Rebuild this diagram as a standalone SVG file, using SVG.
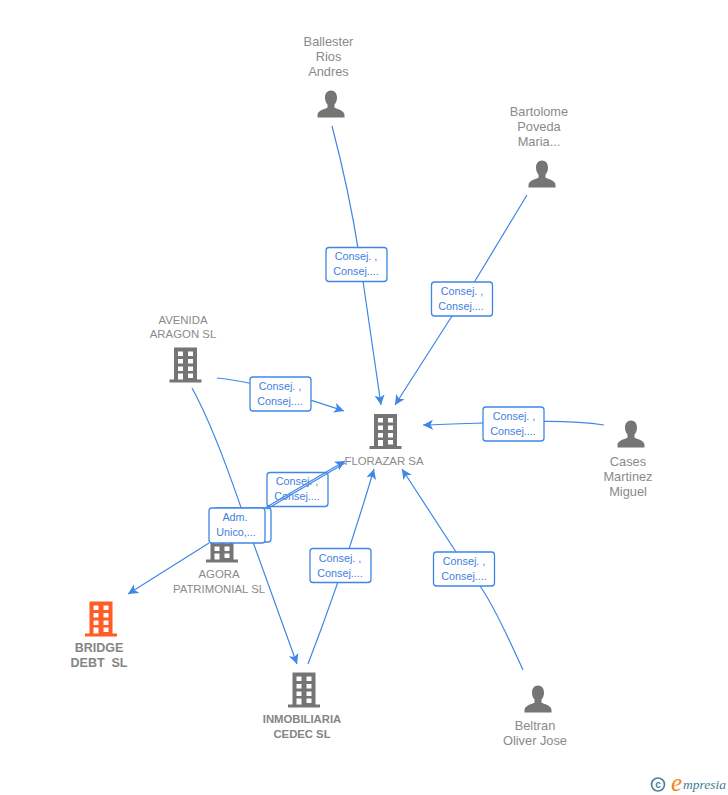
<svg xmlns="http://www.w3.org/2000/svg" width="728" height="795" viewBox="0 0 728 795">
<style>
text{font-family:"Liberation Sans",Arial,sans-serif}
.n{font-size:11.400px;fill:#8a8a8a;text-anchor:middle}
.p{font-size:12.800px;fill:#8a8a8a;text-anchor:middle}
.k{font-weight:bold;fill:#858585;text-anchor:middle}
.l{font-size:10.800px;fill:#3f80e0;text-anchor:middle}
.b{fill:#fff;stroke:#3f86e6;stroke-width:1.3}
.c{fill:none;stroke:#3f86e6;stroke-width:1.2}
.a{marker-end:url(#ah)}
</style>
<defs>
<marker id="ah" markerUnits="userSpaceOnUse" markerWidth="13" markerHeight="12" refX="10" refY="5.500" orient="auto">
<path d="M0 0.500L10 5.500L0 10.500L2.500 5.500Z" fill="#3f86e6"/>
</marker>
<g id="bld">
<path fill-rule="evenodd" d="M-11.500 -17.500H11.500V14.500H16V17.500H-16V14.500H-11.500ZM-7.500 -13.500V-9H-2.500V-13.500ZM2.500 -13.500V-9H7.500V-13.500ZM-7.500 -6V-1.500H-2.500V-6ZM2.500 -6V-1.500H7.500V-6ZM-7.500 1.500V6H-2.500V1.500ZM2.500 1.500V6H7.500V1.500ZM-7.500 8.500V14.500H-2.500V8.500ZM2.500 8.500V13H7.500V8.500Z"/>
</g>
<path id="psn" d="M0 -13.500C3.800 -13.500 6 -10.500 6 -6.500C6 -3.500 5 -1 3.500 0.500V3.800C7 5.500 13.500 6.500 13.500 11V13.500H-13.500V11C-13.500 6.500 -7 5.500 -3.500 3.800V0.500C-5 -1 -6 -3.500 -6 -6.500C-6 -10.500 -3.800 -13.500 0 -13.500Z"/>
</defs>
<g id="connectors">
<path class="c a" d="M332 126C345 175 356 230 363 281L381 405"/>
<path class="c a" d="M527 195L475 281L452 316L395 405"/>
<path class="c a" d="M217 378C250 381 290 393 344 411"/>
<path class="c a" d="M604 425C560 418 500 423 423 425"/>
<path class="c a" d="M523 670C505 630 490 600 480 586L456 552L402 469"/>
<path class="c a" d="M308 664C325 620 350 550 374 469"/>
<path class="c a" d="M192 388C215 430 235 490 253 542L297 664"/>
<path class="c a" d="M209 543L128 594"/>
</g>
<g id="node-florazar"><use href="#bld" x="385.500" y="431.500" fill="#757575"/><text class="n" x="384" y="465">FLORAZAR SA</text></g>
<g id="node-ballester"><use href="#psn" x="331" y="104" fill="#757575"/><text class="p" x="328.500" y="46">Ballester</text><text class="p" x="328.500" y="61">Rios</text><text class="p" x="328.500" y="76">Andres</text></g>
<g id="node-bartolome"><use href="#psn" x="542" y="174" fill="#757575"/><text class="p" x="539" y="116">Bartolome</text><text class="p" x="539" y="131">Poveda</text><text class="p" x="539" y="146">Maria...</text></g>
<g id="node-cases"><use href="#psn" x="631" y="434" fill="#757575"/><text class="p" x="628" y="466">Cases</text><text class="p" x="628" y="481">Martinez</text><text class="p" x="628" y="496">Miguel</text></g>
<g id="node-beltran"><use href="#psn" x="538" y="699" fill="#757575"/><text class="p" x="535" y="730">Beltran</text><text class="p" x="535" y="745">Oliver Jose</text></g>
<g id="node-avenida"><use href="#bld" x="185.500" y="365" fill="#757575"/><text class="n" x="183" y="323.500">AVENIDA</text><text class="n" x="183" y="338">ARAGON SL</text></g>
<g id="node-agora"><use href="#bld" x="222" y="545" fill="#757575"/><text class="n" x="219" y="578">AGORA</text><text class="n" x="219" y="593">PATRIMONIAL SL</text></g>
<g id="node-bridge"><use href="#bld" x="101" y="619" fill="#ff5c26"/><text class="k" x="99" y="652" style="font-size:12.500px">BRIDGE</text><text class="k" x="99" y="667" style="font-size:12.500px;white-space:pre">DEBT  SL</text></g>
<g id="node-inmobiliaria"><use href="#bld" x="304" y="690" fill="#757575"/><text class="k" x="302" y="723" style="font-size:11.300px">INMOBILIARIA</text><text class="k" x="302" y="738" style="font-size:11.300px">CEDEC SL</text></g>
<g id="label-ballester"><rect class="b" x="326" y="247.500" width="61" height="34" rx="3"/><text class="l" x="356" y="260">Consej. ,</text><text class="l" x="356" y="275">Consej....</text></g>
<g id="label-bartolome"><rect class="b" x="431.500" y="282" width="61" height="34" rx="3"/><text class="l" x="462" y="295">Consej. ,</text><text class="l" x="461" y="310">Consej....</text></g>
<g id="label-avenida"><rect class="b" x="250" y="377" width="61" height="34" rx="3"/><text class="l" x="280" y="390">Consej. ,</text><text class="l" x="280" y="405">Consej....</text></g>
<g id="label-cases"><rect class="b" x="483" y="407" width="61" height="34" rx="3"/><text class="l" x="514" y="420">Consej. ,</text><text class="l" x="513" y="435">Consej....</text></g>
<g id="label-beltran"><rect class="b" x="433.500" y="552" width="61" height="34" rx="3"/><text class="l" x="464" y="565">Consej. ,</text><text class="l" x="464" y="580">Consej....</text></g>
<g id="label-inmobiliaria"><rect class="b" x="310" y="548.500" width="61" height="34" rx="3"/><text class="l" x="340" y="562">Consej. ,</text><text class="l" x="340" y="577">Consej....</text></g>
<g id="label-agora"><rect class="b" x="267" y="472.500" width="61" height="34" rx="3"/><text class="l" x="297" y="485">Consej. ,</text><text class="l" x="297" y="500">Consej....</text></g>
<g id="label-adm2"><rect class="b" x="214" y="508" width="57" height="34" rx="3"/></g>
<g id="connectors-top">
<path class="c a" d="M265 508L345 461"/>
<path class="c" d="M267 509L345 463"/>
</g>
<g id="label-adm"><rect class="b" x="209" y="508" width="56" height="35" rx="3"/><text class="l" x="235" y="521">Adm.</text><text class="l" x="236" y="536">Unico,...</text></g>
<g id="logo">
<circle cx="658" cy="784.500" r="6.500" fill="none" stroke="#4f8296" stroke-width="1.700"/>
<text x="658" y="788" text-anchor="middle" style="font-size:10px;font-weight:bold;fill:#4f8296">c</text>
<text x="671" y="791" style="font-family:'Liberation Serif',serif;font-size:25px;font-style:italic;fill:#f58220">e</text>
<text x="683" y="789" style="font-family:'Liberation Serif',serif;font-size:13.500px;font-style:italic;fill:#3e7c92">mpresia</text>
</g>
</svg>
